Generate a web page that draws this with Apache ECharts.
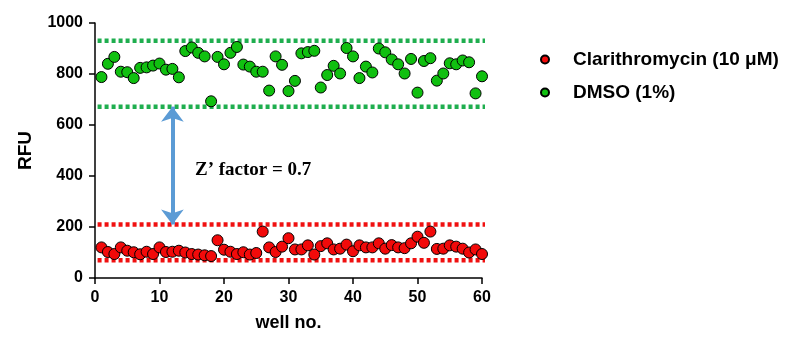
<!DOCTYPE html>
<html>
<head>
<meta charset="utf-8">
<script src="https://cdn.jsdelivr.net/npm/echarts@6/dist/echarts.min.js"></script>
<style>
  html, body { margin: 0; padding: 0; background: #fff; }
  #chart { width: 786px; height: 337px; }
</style>
</head>
<body>
<div id="chart"></div>
<script>
  // well numbers 1..60
  const wells = [1,2,3,4,5,6,7,8,9,10,11,12,13,14,15,16,17,18,19,20,
    21,22,23,24,25,26,27,28,29,30,31,32,33,34,35,36,37,38,39,40,
    41,42,43,44,45,46,47,48,49,50,51,52,53,54,55,56,57,58,59,60]

  const dmso = [788,840,867,809,807,784,824,826,833,841,
    817,820,787,890,904,883,869,693,867,838,
    883,906,837,829,809,809,735,869,836,733,
    773,881,886,891,747,796,832,802,902,869,
    784,829,806,900,885,857,838,802,859,727,
    851,862,774,802,842,838,853,846,724,791]

  const clari = [120,102,94,120,107,101,93,103,94,120,
    102,103,107,100,94,92,89,86,148,111,
    103,94,101,92,98,182,120,102,123,156,
    112,112,128,92,125,136,112,115,131,105,
    128,120,120,136,115,129,120,117,136,162,
    138,182,114,115,128,123,115,100,112,94]

  // limit lines (mean +/- 3 SD) and their x extent
  const dmsoLimits = [930, 672]
  const clariLimits = [210, 70]
  const limitX = [0.4, 61.2]
  const arrowWell = 12

  const xTicks = { min: 0, max: 60, step: 10 }
  const yTicks = { min: 0, max: 1000, step: 200 }

  const font = '"Liberation Sans", Arial, sans-serif'

  function limitSeries(value, color) {
    return {
      type: 'line',
      data: [[limitX[0], value], [limitX[1], value]],
      symbol: 'none',
      clip: false,
      silent: true,
      z: 1,
      lineStyle: { color: color, width: 4.5, type: [4, 3], cap: 'butt' }
    }
  }

  let chart = echarts.init(document.getElementById('chart'))
  let options = {
    animation: false,
    textStyle: { fontFamily: font },
    grid: { left: 95, right: 304, top: 23, bottom: 56 },
    legend: {
      orient: 'vertical',
      left: 535,
      top: 45,
      itemWidth: 8,
      itemHeight: 8,
      itemGap: 14,
      icon: 'circle',
      data: ['Clarithromycin (10 μM)', 'DMSO (1%)'],
      textStyle: { color: '#000', fontSize: 19, fontWeight: 'bold', fontFamily: font, padding: [0, 0, 0, 19] }
    },
    xAxis: {
      type: 'value',
      min: xTicks.min,
      max: xTicks.max,
      interval: xTicks.step,
      name: 'well no.',
      nameLocation: 'middle',
      nameGap: 36,
      nameTextStyle: { color: '#000', fontSize: 18, fontWeight: 'bold' },
      axisLine: { lineStyle: { color: '#000', width: 1.5 } },
      axisTick: { show: true, length: 6, lineStyle: { color: '#000', width: 1.5 } },
      axisLabel: { color: '#000', fontSize: 16, fontWeight: 'bold', margin: 12 },
      splitLine: { show: false }
    },
    yAxis: {
      type: 'value',
      min: yTicks.min,
      max: yTicks.max,
      interval: yTicks.step,
      name: 'RFU',
      nameLocation: 'middle',
      nameGap: 60,
      nameTextStyle: { color: '#000', fontSize: 19, fontWeight: 'bold' },
      axisLine: { show: true, lineStyle: { color: '#000', width: 1.5 } },
      axisTick: { show: true, length: 6, lineStyle: { color: '#000', width: 1.5 } },
      axisLabel: { color: '#000', fontSize: 16, fontWeight: 'bold', margin: 12, formatter: v => String(v) },
      splitLine: { show: false }
    },
    graphic: [{
      type: 'text',
      left: 195,
      top: 161,
      style: {
        text: 'Z’ factor = 0.7',
        fill: '#000',
        font: 'bold 19px "Liberation Serif", "Times New Roman", serif'
      }
    }],
    series: [
      limitSeries(dmsoLimits[0], '#1fae4f'),
      limitSeries(dmsoLimits[1], '#1fae4f'),
      limitSeries(clariLimits[0], '#f01010'),
      limitSeries(clariLimits[1], '#f01010'),
      {
        type: 'line',
        data: [],
        silent: true,
        markLine: {
          silent: true,
          symbol: ['arrow', 'arrow'],
          symbolSize: [17, 15],
          label: { show: false },
          lineStyle: { color: '#5b9bd5', width: 4, type: 'solid' },
          data: [[{ coord: [arrowWell, dmsoLimits[1]] }, { coord: [arrowWell, clariLimits[0]] }]]
        }
      },
      {
        name: 'Clarithromycin (10 μM)',
        type: 'scatter',
        symbolSize: 11,
        z: 3,
        itemStyle: { color: '#f20a0a', borderColor: '#000', borderWidth: 1, opacity: 1 },
        data: wells.map((w, i) => [w, clari[i]])
      },
      {
        name: 'DMSO (1%)',
        type: 'scatter',
        symbolSize: 11,
        z: 3,
        itemStyle: { color: '#10c010', borderColor: '#000', borderWidth: 1, opacity: 1 },
        data: wells.map((w, i) => [w, dmso[i]])
      }
    ]
  }
  chart.setOption(options, true)
</script>
</body>
</html>
